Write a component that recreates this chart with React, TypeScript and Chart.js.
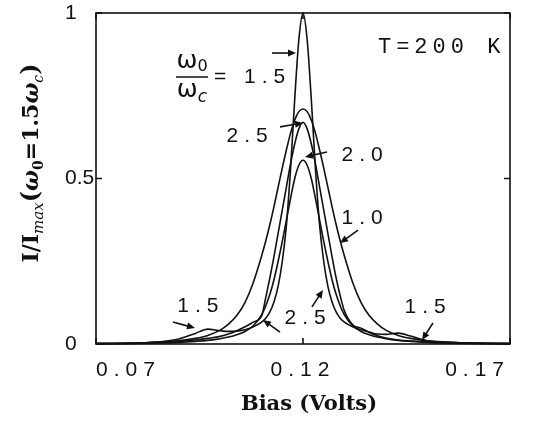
import React, { useEffect, useRef } from 'react';
import { Chart, registerables } from 'chart.js';

Chart.register(...registerables);

// Bias grid (Volts)
const biasVolts = [
  0.070, 0.080, 0.085, 0.090, 0.094, 0.097, 0.100, 0.102, 0.104, 0.106, 0.108,
  0.110, 0.111, 0.112, 0.113, 0.114, 0.115, 0.116, 0.117, 0.118, 0.119,
  0.120,
  0.121, 0.122, 0.123, 0.124, 0.125, 0.126, 0.127, 0.128, 0.129, 0.130,
  0.132, 0.134, 0.136, 0.138, 0.140, 0.143, 0.146, 0.150, 0.155, 0.160, 0.170,
];

// omega0/omegac = 1.0 (widest, peak ~0.71)
const ratio10 = [
  0.001, 0.003, 0.006, 0.010, 0.017, 0.026, 0.042, 0.060, 0.086, 0.126, 0.186,
  0.266, 0.311, 0.361, 0.416, 0.474, 0.532, 0.587, 0.637, 0.677, 0.702,
  0.71,
  0.702, 0.677, 0.637, 0.587, 0.532, 0.474, 0.416, 0.361, 0.311, 0.266,
  0.186, 0.126, 0.086, 0.060, 0.042, 0.026, 0.017, 0.010, 0.006, 0.003, 0.001,
];

// omega0/omegac = 1.5 (tallest, with satellite bumps)
const ratio15 = [
  0.001, 0.003, 0.006, 0.015, 0.032, 0.045, 0.040, 0.038, 0.039, 0.043, 0.052,
  0.066, 0.078, 0.097, 0.128, 0.175, 0.25, 0.36, 0.53, 0.74, 0.92,
  1.0,
  0.92, 0.74, 0.53, 0.36, 0.25, 0.175, 0.128, 0.097, 0.078, 0.066,
  0.052, 0.043, 0.036, 0.030, 0.029, 0.033, 0.024, 0.010, 0.005, 0.003, 0.001,
];

// omega0/omegac = 2.0 (peak ~0.555)
const ratio20 = [
  0.001, 0.002, 0.003, 0.005, 0.008, 0.011, 0.016, 0.021, 0.028, 0.038, 0.055,
  0.088, 0.115, 0.15, 0.195, 0.25, 0.31, 0.375, 0.44, 0.50, 0.54,
  0.555,
  0.54, 0.50, 0.44, 0.375, 0.31, 0.25, 0.195, 0.15, 0.115, 0.088,
  0.055, 0.038, 0.028, 0.021, 0.016, 0.011, 0.008, 0.005, 0.003, 0.002, 0.001,
];

// omega0/omegac = 2.5 (peak ~0.67, shoulders)
const ratio25 = [
  0.001, 0.003, 0.005, 0.008, 0.012, 0.017, 0.023, 0.030, 0.040, 0.052, 0.066,
  0.085, 0.14, 0.20, 0.265, 0.335, 0.405, 0.475, 0.545, 0.605, 0.65,
  0.67,
  0.65, 0.605, 0.545, 0.475, 0.405, 0.335, 0.265, 0.20, 0.145, 0.10,
  0.058, 0.048, 0.035, 0.025, 0.018, 0.012, 0.009, 0.006, 0.004, 0.003, 0.001,
];

const seriesNames = ['1.0', '1.5', '2.0', '2.5'];

const xTickValues = [0.07, 0.12, 0.17];
const xTickLabels = ['0.07', '0.12', '0.17'];
const yTickValues = [0, 0.5, 1];
const yTickLabels = ['0', '0.5', '1'];

// Curve labels (data coordinates)
const labelTexts = ['2.5', '2.0', '1.0', '2.5', '1.5', '1.5'];
const labelX = [0.1065, 0.1343, 0.1343, 0.1205, 0.0946, 0.1495];
const labelY = [0.628, 0.571, 0.381, 0.079, 0.115, 0.112];

// Arrows (data coordinates): tail -> head
const arrowX1 = [0.11251, 0.11444, 0.12580, 0.13329, 0.11444, 0.12217, 0.0886, 0.1514];
const arrowY1 = [0.879, 0.656, 0.580, 0.344, 0.036, 0.112, 0.0665, 0.0634];
const arrowX2 = [0.11831, 0.12000, 0.12048, 0.12894, 0.11034, 0.12483, 0.09391, 0.14874];
const arrowY2 = [0.879, 0.668, 0.565, 0.305, 0.0725, 0.163, 0.048, 0.012];

// Fraction label omega0/omegac = 1.5 and temperature
const fractionAt = { x: 0.09319, y: 0.8066 };
const equalsText = '= 1.5';
const equalsAt = { x: 0.0985, y: 0.807 };
const tempText = 'T=200 K';
const tempAt = { x: 0.1381, y: 0.897 };

const xTitle = 'Bias (Volts)';

const App = () => {
  const ref = useRef<HTMLCanvasElement>(null);

  useEffect(() => {
    document.body.style.margin = '0';
    const canvas = ref.current!;
    const mk = (vals: number[]) => biasVolts.map((b, i) => ({ x: b, y: vals[i] }));
    const datasets = [ratio10, ratio15, ratio20, ratio25].map((v, i) => ({
      label: seriesNames[i],
      data: mk(v),
      borderColor: '#111',
      borderWidth: 1.6,
      pointRadius: 0,
      cubicInterpolationMode: 'monotone' as const,
      fill: false,
      clip: 4,
    }));

    const drawSpaced = (ctx: CanvasRenderingContext2D, text: string, x: number, y: number, spacing: number, align: 'left' | 'center') => {
      (ctx as any).letterSpacing = spacing + 'px';
      const w = ctx.measureText(text).width - spacing;
      ctx.textAlign = 'left';
      ctx.fillText(text, align === 'center' ? x - w / 2 : x, y);
      (ctx as any).letterSpacing = '0px';
    };

    const arrow = (ctx: CanvasRenderingContext2D, x1: number, y1: number, x2: number, y2: number) => {
      const ang = Math.atan2(y2 - y1, x2 - x1);
      const hl = 8, hw = 3.5;
      ctx.beginPath();
      ctx.moveTo(x1, y1);
      ctx.lineTo(x2 - Math.cos(ang) * hl * 0.8, y2 - Math.sin(ang) * hl * 0.8);
      ctx.lineWidth = 1.6;
      ctx.stroke();
      ctx.beginPath();
      ctx.moveTo(x2, y2);
      ctx.lineTo(x2 - Math.cos(ang) * hl - Math.sin(ang) * hw, y2 - Math.sin(ang) * hl + Math.cos(ang) * hw);
      ctx.lineTo(x2 - Math.cos(ang) * hl + Math.sin(ang) * hw, y2 - Math.sin(ang) * hl - Math.cos(ang) * hw);
      ctx.closePath();
      ctx.fill();
    };

    const plugin = {
      id: 'decor',
      beforeDraw(chart: any) {
        chart.ctx.letterSpacing = '0px';
      },
      afterDatasetsDraw(chart: any) {
        chart.ctx.letterSpacing = '6px';
      },
      afterDraw(chart: any) {
        const ctx: CanvasRenderingContext2D = chart.ctx;
        (ctx as any).letterSpacing = '0px';
        const xs = chart.scales.x;
        const ys = chart.scales.y;
        const { left, right, top, bottom } = chart.chartArea;
        const px = (v: number) => xs.getPixelForValue(v);
        const py = (v: number) => ys.getPixelForValue(v);
        ctx.save();
        ctx.strokeStyle = '#111';
        ctx.fillStyle = '#111';
        // frame
        ctx.lineWidth = 1.6;
        ctx.strokeRect(left, top, right - left, bottom - top);
        // inward ticks
        ctx.beginPath();
        xTickValues.forEach((v) => {
          const x = px(v);
          ctx.moveTo(x, bottom); ctx.lineTo(x, bottom - 6);
          ctx.moveTo(x, top); ctx.lineTo(x, top + 6);
        });
        yTickValues.forEach((v) => {
          const y = py(v);
          ctx.moveTo(left, y); ctx.lineTo(left + 6, y);
          ctx.moveTo(right, y); ctx.lineTo(right - 6, y);
        });
        ctx.stroke();

        // curve labels
        ctx.textBaseline = 'middle';
        ctx.font = '21px "Liberation Sans"';
        labelTexts.forEach((t, i) => drawSpaced(ctx, t, px(labelX[i]), py(labelY[i]), 6, 'center'));
        drawSpaced(ctx, equalsText, px(equalsAt.x), py(equalsAt.y), 6, 'left');

        // arrows
        arrowX1.forEach((_, i) => arrow(ctx, px(arrowX1[i]), py(arrowY1[i]), px(arrowX2[i]), py(arrowY2[i])));

        // fraction omega0 / omegac
        const fx = px(fractionAt.x);
        const fy = py(fractionAt.y);
        ctx.textBaseline = 'alphabetic';
        ctx.textAlign = 'left';
        ctx.font = '25px "DejaVu Sans"';
        const wOm = ctx.measureText('ω').width;
        ctx.font = '16px "DejaVu Sans"';
        const w0 = ctx.measureText('0').width;
        ctx.font = 'italic 17px "DejaVu Sans"';
        const wc = ctx.measureText('c').width;
        const numW = wOm + w0;
        ctx.font = '25px "DejaVu Sans"';
        ctx.fillText('ω', fx - numW / 2, fy - 9);
        ctx.font = '16px "DejaVu Sans"';
        ctx.fillText('0', fx - numW / 2 + wOm, fy - 6);
        const denW = wOm + wc;
        ctx.font = '25px "DejaVu Sans"';
        ctx.fillText('ω', fx - denW / 2, fy + 20);
        ctx.font = 'italic 17px "DejaVu Sans"';
        ctx.fillText('c', fx - denW / 2 + wOm, fy + 25);
        ctx.beginPath();
        ctx.lineWidth = 1.6;
        ctx.moveTo(fx - 16, fy); ctx.lineTo(fx + 16, fy);
        ctx.stroke();

        // temperature
        ctx.textBaseline = 'middle';
        ctx.font = '22px "Liberation Mono"';
        drawSpaced(ctx, tempText, px(tempAt.x), py(tempAt.y), 5, 'left');

        // x title
        ctx.font = 'bold 21px "DejaVu Serif"';
        ctx.textAlign = 'center';
        ctx.textBaseline = 'middle';
        ctx.fillText(xTitle, (left + right) / 2 + 6, 405);

        // y title: I/I_max(ω0=1.5ωc)
        const parts = [
          { t: 'I/I', f: 'bold 22px "DejaVu Serif"', dy: 0 },
          { t: 'max', f: 'italic 15px "DejaVu Serif"', dy: 5 },
          { t: '(', f: 'bold 24px "DejaVu Serif"', dy: 0 },
          { t: 'ω', f: 'bold italic 22px "DejaVu Serif"', dy: 0 },
          { t: '0', f: 'bold 14px "DejaVu Serif"', dy: 5 },
          { t: '=1.5', f: 'bold 22px "DejaVu Serif"', dy: 0 },
          { t: 'ω', f: 'bold italic 22px "DejaVu Serif"', dy: 0 },
          { t: 'c', f: 'italic 14px "DejaVu Serif"', dy: 5 },
          { t: ')', f: 'bold 24px "DejaVu Serif"', dy: 0 },
        ];
        let total = 0;
        const widths = parts.map((p) => { ctx.font = p.f; const w = ctx.measureText(p.t).width; total += w; return w; });
        ctx.translate(38, 163);
        ctx.rotate(-Math.PI / 2);
        ctx.textAlign = 'left';
        ctx.textBaseline = 'alphabetic';
        let cx = -total / 2;
        parts.forEach((p, i) => {
          ctx.font = p.f;
          ctx.fillText(p.t, cx, p.dy);
          cx += widths[i];
        });
        ctx.restore();
      },
    };

    const chart = new Chart(canvas, {
      type: 'line',
      data: { datasets },
      options: {
        responsive: false,
        animation: false,
        devicePixelRatio: 1,
        layout: { padding: { left: 65, right: 27, top: 13, bottom: 0 } },
        plugins: { legend: { display: false }, tooltip: { enabled: false } },
        scales: {
          x: {
            type: 'linear',
            min: 0.07,
            max: 0.17,
            grid: { display: false, drawTicks: false },
            border: { display: false },
            afterBuildTicks: (s: any) => { s.ticks = xTickValues.map((v) => ({ value: v })); },
            afterFit: (s: any) => { s.height = 81; },
            ticks: {
              z: 1,
              align: 'inner',
              padding: 14,
              color: '#111',
              maxRotation: 0,
              autoSkip: false,
              font: { family: '"Liberation Sans"', size: 21 },
              callback: (_v: any, i: number) => xTickLabels[i],
            },
          },
          y: {
            type: 'linear',
            min: 0,
            max: 1,
            grid: { display: false, drawTicks: false },
            border: { display: false },
            afterBuildTicks: (s: any) => { s.ticks = yTickValues.map((v) => ({ value: v })); },
            afterFit: (s: any) => { s.width = 31; },
            ticks: {
              crossAlign: 'far',
              padding: 0,
              color: '#111',
              autoSkip: false,
              font: { family: '"Liberation Sans"', size: 21 },
              callback: (_v: any, i: number) => yTickLabels[i],
            },
          },
        },
      } as any,
      plugins: [plugin],
    });
    return () => chart.destroy();
  }, []);

  return (
    <div style={{ width: 537, height: 425 }}>
      <canvas ref={ref} width={537} height={425} style={{ display: 'block' }} />
    </div>
  );
};

export default App;
